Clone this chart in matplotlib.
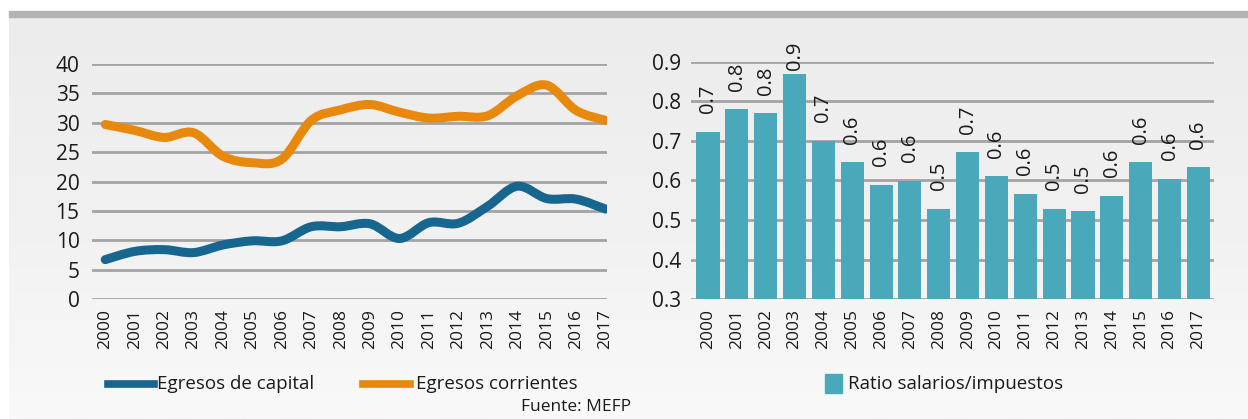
import numpy as np
import matplotlib.pyplot as plt
from matplotlib.path import Path
from matplotlib.patches import PathPatch, Rectangle
from matplotlib.lines import Line2D

plt.rcParams['font.family'] = ['Open Sans', 'DejaVu Sans']

# Data
years = [str(y) for y in range(2000, 2018)]
egresos_capital = [6.7, 8.1, 8.4, 7.9, 9.2, 9.9, 9.9, 12.3, 12.3, 12.8,
                   10.3, 13.0, 12.9, 15.8, 19.2, 17.1, 17.0, 15.3]
egresos_corrientes = [29.7, 28.7, 27.5, 28.3, 24.3, 23.2, 23.8, 30.4, 32.2, 33.1,
                      31.8, 30.8, 31.1, 31.2, 34.6, 36.4, 32.1, 30.4]
ratio_sal_imp = [0.723, 0.780, 0.770, 0.869, 0.701, 0.646, 0.589, 0.599, 0.529, 0.671,
                 0.611, 0.566, 0.529, 0.522, 0.561, 0.646, 0.604, 0.633]

BLUE = "#17668f"
ORANGE = "#e8880c"
TEAL = "#4aa8bb"
GRID = "#a3a3a3"
TXT = "#1a1a1a"

W, H = 1248, 419
fig = plt.figure(figsize=(W / 100, H / 100), dpi=100)


def fx(px):
    return px / W


def fy(py):
    return 1 - py / H


# background: white top, grey band, light gradient panel
bg = fig.add_axes([fx(9), 0, 1 - fx(9), fy(17)], zorder=-10)
grad = np.linspace(0, 1, 256).reshape(-1, 1)
bg.imshow(grad, aspect='auto', cmap=plt.matplotlib.colors.LinearSegmentedColormap.from_list(
    'bg', ['#ececec', '#f1f1f1', '#f9f9f9']), extent=[0, 1, 0, 1], origin='upper')
bg.axis('off')
fig.patches.append(Rectangle((fx(9), fy(17)), 1 - fx(9), fy(11) - fy(17),
                             transform=fig.transFigure, color='#b3b3b3', zorder=-5))


def smooth_path(xs, ys):
    """Excel-like smoothed line as cubic bezier path"""
    pts = np.column_stack([xs, ys]).astype(float)
    n = len(pts)
    verts = [pts[0]]
    codes = [Path.MOVETO]
    for i in range(n - 1):
        p0 = pts[i - 1] if i > 0 else pts[i]
        p1 = pts[i]
        p2 = pts[i + 1]
        p3 = pts[i + 2] if i + 2 < n else pts[i + 1]
        c1 = p1 + (p2 - p0) / 6
        c2 = p2 - (p3 - p1) / 6
        verts += [c1, c2, p2]
        codes += [Path.CURVE4] * 3
    return Path(verts, codes)


def style_axes(ax):
    for s in ax.spines.values():
        s.set_visible(False)
    ax.set_facecolor('none')
    ax.grid(axis='y', color=GRID, linewidth=2)
    ax.set_axisbelow(True)
    ax.tick_params(length=0, colors=TXT)


# Left: line chart
ax1 = fig.add_axes([fx(92), fy(299), fx(607) - fx(92), fy(64) - fy(299)])
style_axes(ax1)
x = np.arange(len(years))
for vals, col in [(egresos_capital, BLUE), (egresos_corrientes, ORANGE)]:
    ax1.add_patch(PathPatch(smooth_path(x, vals), facecolor='none', edgecolor=col,
                            linewidth=6.5, capstyle='round', joinstyle='round'))
ax1.set_xlim(-0.45, 17.05)
ax1.set_ylim(0, 40)
ax1.set_yticks(range(0, 41, 5))
ax1.set_xticks(x)
ax1.set_xticklabels(years, rotation=90, fontsize=12.5)
ax1.tick_params(axis='y', labelsize=15, pad=9)
ax1.tick_params(axis='x', pad=7)

# Right: bar chart
ax2 = fig.add_axes([fx(691), fy(299), fx(1214) - fx(691), fy(62) - fy(299)])
style_axes(ax2)
ax2.bar(x, ratio_sal_imp, width=0.8, color=TEAL, bottom=0, zorder=2)
ax2.set_xlim(-0.59, 17.54)
ax2.set_ylim(0.3, 0.9)
ax2.set_yticks(np.arange(0.3, 0.91, 0.1))
ax2.set_yticklabels([f"{v:.1f}" for v in np.arange(0.3, 0.91, 0.1)])
ax2.set_xticks(x)
ax2.set_xticklabels(years, rotation=90, fontsize=12.5)
ax2.tick_params(axis='y', labelsize=15, pad=7)
ax2.tick_params(axis='x', pad=7)
for xi, v in zip(x, ratio_sal_imp):
    ypos = min(v + 0.047, 0.88)
    ax2.text(xi, ypos, f"{v:.1f}", rotation=90, ha='center', va='bottom',
             fontsize=14.5, color=TXT, clip_on=False)

# Legends
fig.add_artist(Line2D([fx(108), fx(154)], [fy(384), fy(384)], color=BLUE, linewidth=5.5,
                      transform=fig.transFigure))
fig.text(fx(157), fy(384), "Egresos de capital", fontsize=13.5, va='center', color=TXT)
fig.add_artist(Line2D([fx(363), fx(410)], [fy(384), fy(384)], color=ORANGE, linewidth=5.5,
                      transform=fig.transFigure))
fig.text(fx(416), fy(384), "Egresos corrientes", fontsize=13.5, va='center', color=TXT)
fig.patches.append(Rectangle((fx(825), fy(393)), fx(17), fy(374) - fy(393),
                             transform=fig.transFigure, color=TEAL))
fig.text(fx(848), fy(384), "Ratio salarios/impuestos", fontsize=13.5, va='center', color=TXT)
fig.text(fx(576), fy(407), "Fuente: MEFP", fontsize=12.5, ha='center', va='center', color=TXT)

fig.savefig("out.png", dpi=100)
